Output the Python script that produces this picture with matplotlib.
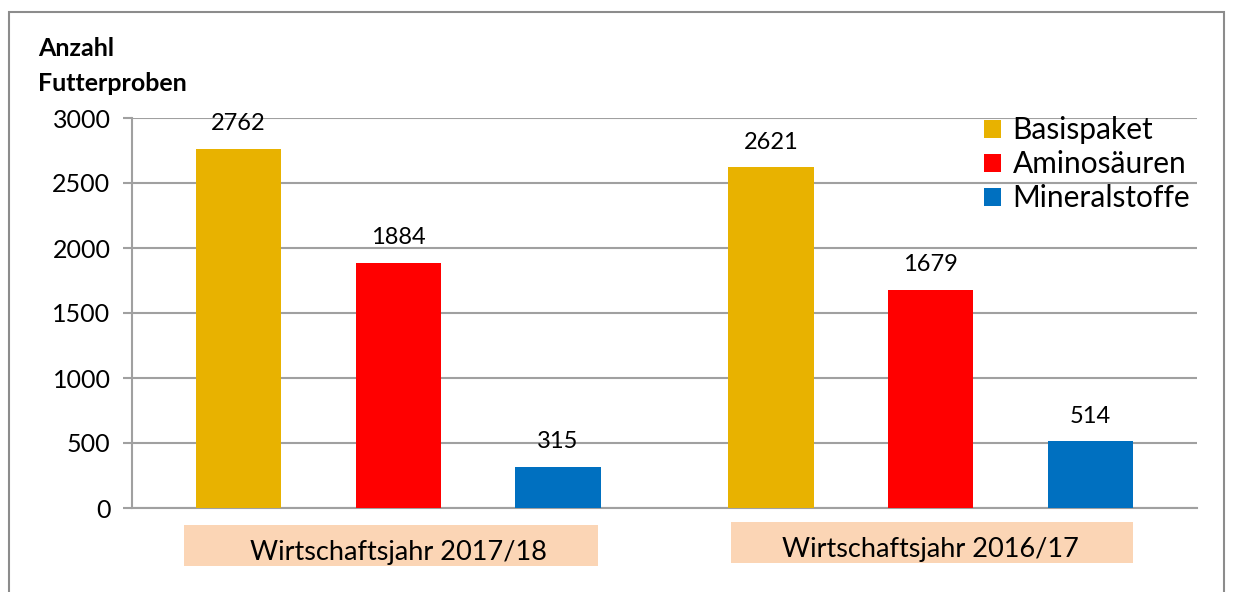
import numpy as np
import matplotlib.pyplot as plt
from matplotlib.patches import Rectangle
import matplotlib.transforms as mtransforms

plt.rcParams['font.family'] = ['Lato', 'DejaVu Sans']

# Daten
jahre = ["Wirtschaftsjahr 2017/18", "Wirtschaftsjahr 2016/17"]
serien = ["Basispaket", "Aminosäuren", "Mineralstoffe"]
basispaket = [2762, 2621]
aminosaeuren = [1884, 1679]
mineralstoffe = [315, 514]
farben = ["#E8B200", "#FF0000", "#0070C0"]

W, H = 1235, 592
fig = plt.figure(figsize=(W / 100, H / 100), dpi=100)

# Achse in Pixeln: links 132, rechts 1197, y=0 bei 508, y=3000 bei 118
ax = fig.add_axes([132 / W, (H - 508) / H, (1197 - 132) / W, (508 - 118) / H])

x = np.arange(len(jahre))
breite = 0.16
abstand = 0.30
werte = [basispaket, aminosaeuren, mineralstoffe]

for i, (name, vals, col) in enumerate(zip(serien, werte, farben)):
    pos = x + (i - 1) * abstand
    bars = ax.bar(pos, vals, width=breite, color=col, label=name, zorder=3)
    for b, v in zip(bars, vals):
        ax.annotate(str(v), (b.get_x() + b.get_width() / 2, v),
                    xytext=(0, 10.5), textcoords="offset points",
                    ha="center", va="bottom", fontsize=17, zorder=4)

ax.set_xlim(-0.5, 1.5)
ax.set_ylim(0, 3000)
ax.set_yticks(np.arange(0, 3001, 500))
ax.tick_params(axis="y", labelsize=18, length=6.5, width=1.5, color="#A0A0A0", pad=9)
ax.set_xticks([])
ax.grid(axis="y", color="#A0A0A0", linewidth=1.5, zorder=0)
for s in ["top", "right"]:
    ax.spines[s].set_visible(False)
ax.spines["left"].set_color("#A0A0A0")
ax.spines["left"].set_linewidth(1.5)
ax.spines["bottom"].set_color("#A0A0A0")
ax.spines["bottom"].set_linewidth(1.5)

# Kategorie-Kästen unter der Achse
trans = mtransforms.blended_transform_factory(ax.transData, ax.transAxes)
kasten = [(-0.402, 0.376, -0.148), (-0.376, 0.379, -0.141)]
for xi, lab, (l, r, b) in zip(x, jahre, kasten):
    ax.add_patch(Rectangle((xi + l, b), r - l, 0.105, transform=trans,
                           facecolor="#FBD5B5", edgecolor="none", clip_on=False))
    ax.text(xi, b + 0.035, lab, transform=trans, ha="center", va="center",
            fontsize=19.5)

# y-Achsentitel
fig.text(38 / W, 1 - 66 / H, "Anzahl\nFutterproben", ha="left", va="center",
         fontsize=18, fontweight="bold", linespacing=1.65)

ax.legend(loc="upper left", bbox_to_anchor=(0.789, 1.035), frameon=False,
          fontsize=21.5, handlelength=0.55, handleheight=0.55, handletextpad=0.4,
          labelspacing=0.2, borderaxespad=0)

# Rahmen um das Diagramm
fig.add_artist(Rectangle((9 / W, -0.1), (1224 - 9) / W, 1.1 - 12 / H,
                         transform=fig.transFigure, fill=False,
                         edgecolor="#8C8C8C", linewidth=1.5))

fig.savefig("out.png", dpi=100)
